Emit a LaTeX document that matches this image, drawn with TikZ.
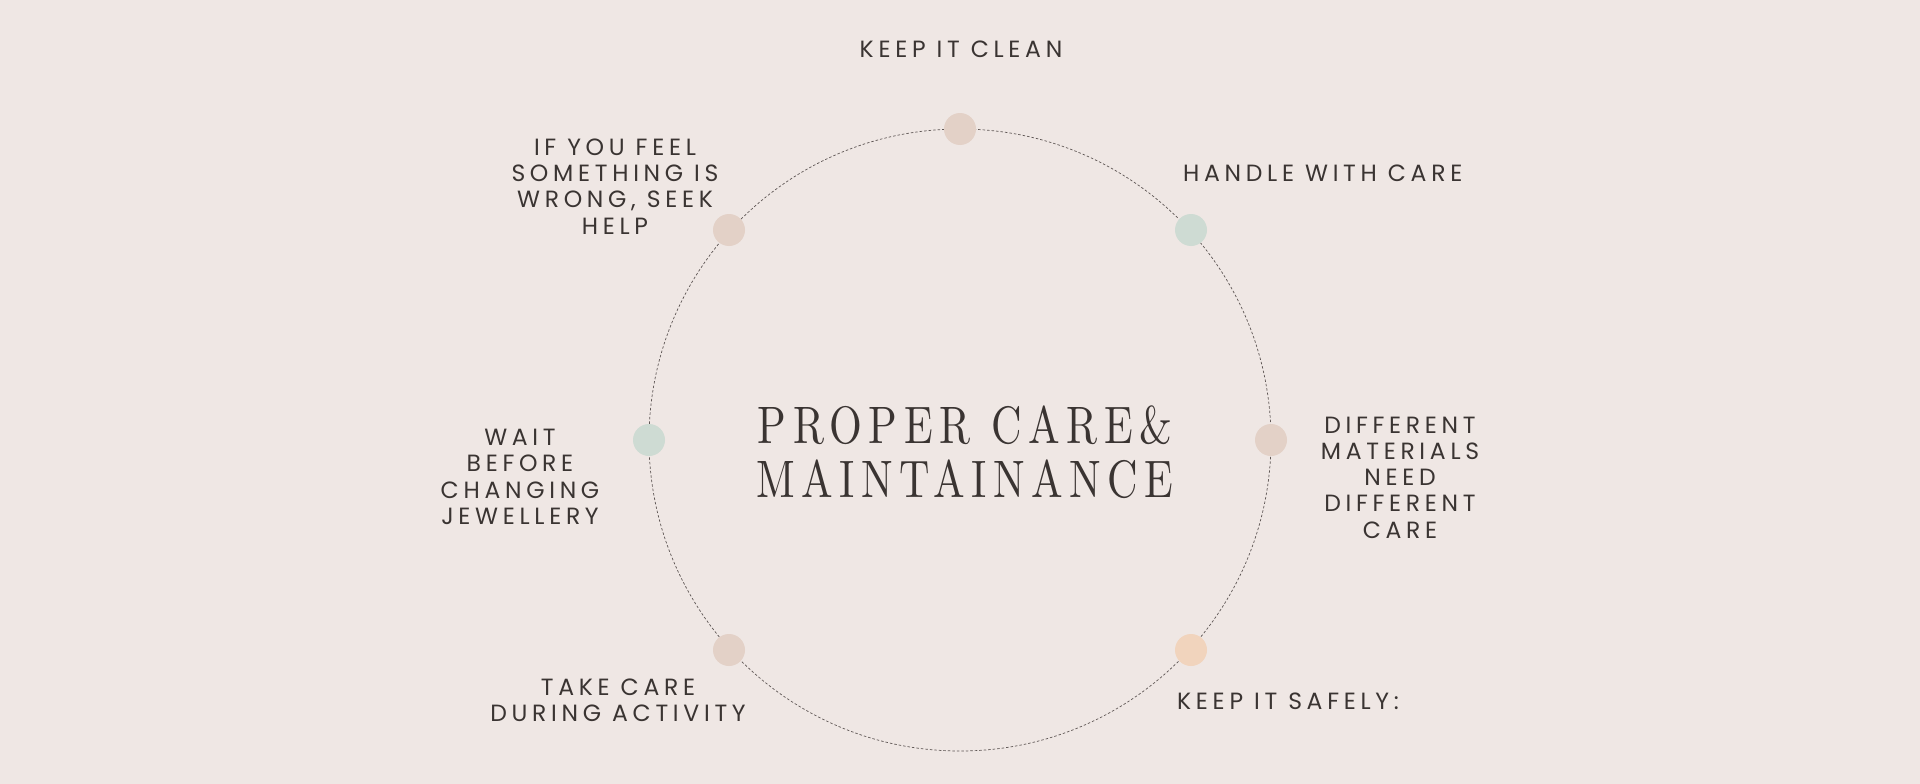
\documentclass[tikz,border=0pt]{standalone}
\usepackage{fontspec}
\newfontfamily\labfont[LetterSpace=20]{Poppins}
\newfontfamily\titlefont[FakeStretch=0.8,LetterSpace=12.5]{lmroman10-regular.otf}
\definecolor{bg}{HTML}{EFE7E4}
\definecolor{ink}{HTML}{3A3432}
\definecolor{dotbeige}{HTML}{E3D1C7}
\definecolor{dotgreen}{HTML}{CEDBD3}
\definecolor{dotpeach}{HTML}{F1D4BD}
\definecolor{ringcol}{HTML}{5E5654}
\tikzset{
  dotnode/.style={circle, inner sep=0pt, minimum size=32pt, draw=none},
  ringnode/.style={circle, inner sep=0pt, minimum size=622pt, draw=ringcol, line width=0.7pt, dash pattern=on 2.5pt off 2pt},
  labnode/.style={inner sep=0pt, text=ink, align=center, font={\labfont\fontsize{23.5}{26.3}\selectfont}},
  titlenode/.style={inner sep=0pt, text=ink, align=center, font={\titlefont\fontsize{52.7}{54}\selectfont}}
}
\begin{document}
\begin{tikzpicture}[x=1pt,y=-1pt]
\fill[bg] (0,0) rectangle (1920,784);
\useasboundingbox (0,0) rectangle (1920,784);
\node[ringnode] (ring) at (960,440) {};
\node[dotnode, fill=dotbeige] (d1) at (960,129) {};
\node[dotnode, fill=dotgreen] (d2) at (1191,230) {};
\node[dotnode, fill=dotbeige] (d3) at (1271,440) {};
\node[dotnode, fill=dotpeach] (d4) at (1191,650) {};
\node[dotnode, fill=dotbeige] (d5) at (729,650) {};
\node[dotnode, fill=dotgreen] (d6) at (649,440) {};
\node[dotnode, fill=dotbeige] (d7) at (729,230) {};
\node[titlenode] (title) at (965,452) {PROPER CARE\&\\MAINTAINANCE};
\node[labnode, anchor=base] (l1) at (961,57.5) {KEEP IT CLEAN};
\node[labnode, anchor=base west] (l2) at (1183,181) {HANDLE WITH CARE};
\node[labnode] (l3) at (1400,477.5) {DIFFERENT\\MATERIALS\\NEED\\DIFFERENT\\CARE};
\node[labnode, anchor=base west] (l4) at (1177,709) {KEEP IT SAFELY:};
\node[labnode] (l5) at (618,700.5) {TAKE CARE\\DURING ACTIVITY};
\node[labnode] (l6) at (520,477) {WAIT\\BEFORE\\CHANGING\\JEWELLERY};
\node[labnode] (l7) at (615,186.5) {IF YOU FEEL\\SOMETHING IS\\WRONG, SEEK\\HELP};
\end{tikzpicture}
\end{document}
